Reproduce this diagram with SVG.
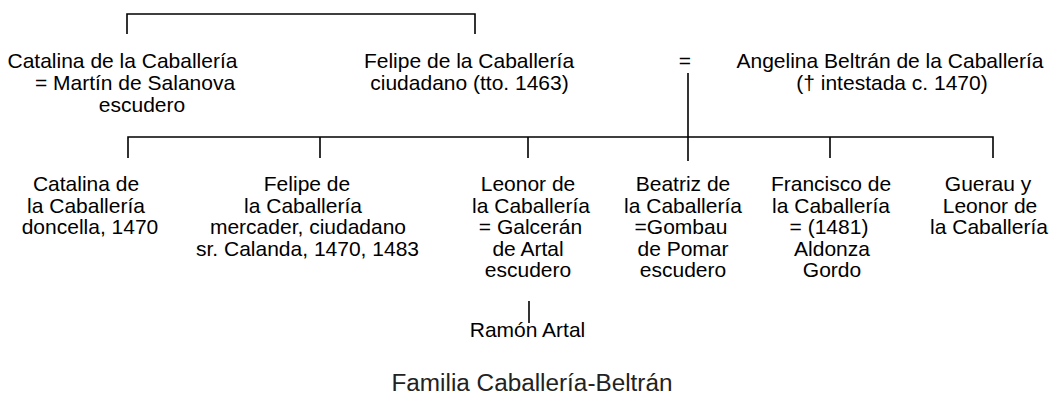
<svg xmlns="http://www.w3.org/2000/svg" width="1052" height="396" viewBox="0 0 1052 396">
<style>
text { font-family: "Liberation Sans", Arial, sans-serif; font-size: 21px; fill: #000; text-anchor: middle; }
.title { font-size: 23px; fill: #222; }
.ln { stroke: #000; stroke-width: 1.6; fill: none; }
</style>
<rect width="1052" height="396" fill="#fff"/>
<g id="connectors">
  <path class="ln" d="M127,34 V14 H475 V34"/>
  <path class="ln" d="M688,73 V161"/>
  <path class="ln" d="M128,158 V137 H993 V158"/>
  <path class="ln" d="M320,137 V158 M528,137 V158 M830,137 V158"/>
  <path class="ln" d="M529,301 V323"/>
</g>
<g id="catalina-salanova">
  <text x="122.5" y="68">Catalina de la Caballería</text>
  <text x="135" y="90">= Martín de Salanova</text>
  <text x="142" y="111.5">escudero</text>
</g>
<g id="felipe-padre">
  <text x="469" y="68">Felipe de la Caballería</text>
  <text x="469.5" y="90">ciudadano (tto. 1463)</text>
</g>
<g id="matrimonio">
  <text x="685" y="68">=</text>
</g>
<g id="angelina">
  <text x="890" y="68">Angelina Beltrán de la Caballería</text>
  <text x="892" y="90">(† intestada c. 1470)</text>
</g>
<g id="catalina-hija">
  <text x="86" y="191">Catalina de</text>
  <text x="86" y="212.5">la Caballería</text>
  <text x="90" y="234">doncella, 1470</text>
</g>
<g id="felipe-hijo">
  <text x="307" y="191">Felipe de</text>
  <text x="303" y="212.5">la Caballería</text>
  <text x="308" y="234">mercader, ciudadano</text>
  <text x="307.5" y="255.5">sr. Calanda, 1470, 1483</text>
</g>
<g id="leonor">
  <text x="528" y="191">Leonor de</text>
  <text x="531" y="212.5">la Caballería</text>
  <text x="530.5" y="234">= Galcerán</text>
  <text x="528" y="255.5">de Artal</text>
  <text x="528" y="277">escudero</text>
</g>
<g id="beatriz">
  <text x="683" y="191">Beatriz de</text>
  <text x="683" y="212.5">la Caballería</text>
  <text x="681" y="234">=Gombau</text>
  <text x="683" y="255.5">de Pomar</text>
  <text x="683" y="277">escudero</text>
</g>
<g id="francisco">
  <text x="831" y="191">Francisco de</text>
  <text x="831" y="212.5">la Caballería</text>
  <text x="829" y="234">= (1481)</text>
  <text x="832" y="255.5">Aldonza</text>
  <text x="832" y="277">Gordo</text>
</g>
<g id="guerau-leonor">
  <text x="988" y="191">Guerau y</text>
  <text x="990" y="212.5">Leonor de</text>
  <text x="989" y="234">la Caballería</text>
</g>
<g id="ramon">
  <text x="527.5" y="337">Ramón Artal</text>
</g>
<g id="titulo">
  <text class="title" x="532" y="391" textLength="281" lengthAdjust="spacingAndGlyphs">Familia Caballería-Beltrán</text>
</g>
</svg>
